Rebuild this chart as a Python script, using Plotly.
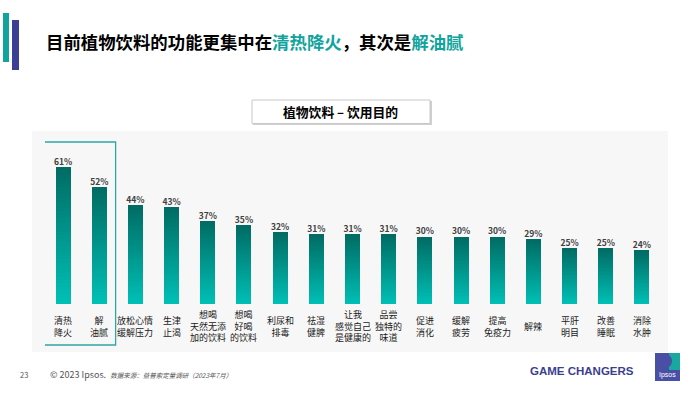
import plotly.graph_objects as go

categories = ["清热<br>降火", "解<br>油腻", "放松心情<br>缓解压力", "生津<br>止渴",
              "想喝<br>天然无添<br>加的饮料", "想喝<br>好喝<br>的饮料", "利尿和<br>排毒",
              "祛湿<br>健脾", "让我<br>感觉自己<br>是健康的", "品尝<br>独特的<br>味道",
              "促进<br>消化", "缓解<br>疲劳", "提高<br>免疫力", "解辣", "平肝<br>明目",
              "改善<br>睡眠", "消除<br>水肿"]
values = [61, 52, 44, 43, 37, 35, 32, 31, 31, 31, 30, 30, 30, 29, 25, 25, 24]
value_labels = [f"{v}%" for v in values]

FONT = "Noto Sans CJK SC"
W, H = 700, 394
ML, MR, MT, MB = 45, 40, 142, 90
PW, PH = W - ML - MR, H - MT - MB

def lerp(c1, c2, t):
    return "rgb(%d,%d,%d)" % tuple(round(a + (b - a) * t) for a, b in zip(c1, c2))

bottom_c = (0, 191, 181)
top_c = (0, 108, 100)
N = 40
xs = list(range(len(categories)))

fig = go.Figure()
for k in range(N):
    fig.add_trace(go.Bar(
        x=xs, y=[v / N for v in values], width=0.415,
        marker=dict(color=lerp(bottom_c, top_c, k / (N - 1)), line=dict(width=0)),
        hoverinfo="skip", showlegend=False))

fig.add_trace(go.Scatter(
    x=xs, y=values, mode="text", text=value_labels, textposition="top center",
    textfont=dict(family=FONT, size=8.5, color="#404040", weight="bold"),
    hoverinfo="skip", showlegend=False, cliponaxis=False))

def px(p):
    return (p - ML) / PW

def py(p):
    return (H - MB - p) / PH

ann = []
for i, c in enumerate(categories):
    ann.append(dict(x=i, y=py(326), xref="x", yref="paper", text=c, showarrow=False,
                    xanchor="center", yanchor="middle",
                    font=dict(family=FONT, size=9, color="#1a1a1a")))

ann.append(dict(x=px(44), y=py(42), xref="paper", yref="paper", xanchor="left", yanchor="middle",
                showarrow=False,
                text="<b>目前植物饮料的功能更集中在<span style='color:#12A39E'>清热降火</span>，其次是<span style='color:#12A39E'>解油腻</span></b>",
                font=dict(family=FONT, size=17.4, color="#000000")))
ann.append(dict(x=px(340), y=py(111.5), xref="paper", yref="paper", xanchor="center", yanchor="middle",
                showarrow=False, text="<b>植物饮料 – 饮用目的</b>",
                font=dict(family=FONT, size=12.8, color="#000000")))
ann.append(dict(x=px(18), y=py(374), xref="paper", yref="paper", xanchor="left", yanchor="middle",
                showarrow=False, text="23", font=dict(family=FONT, size=7.5, color="#555555")))
ann.append(dict(x=px(48), y=py(374), xref="paper", yref="paper", xanchor="left", yanchor="middle",
                showarrow=False,
                text="© 2023 Ipsos.  <i><span style='font-size:6.5px'>数据来源：益普索定量调研（2023年7月）</span></i>",
                font=dict(family=FONT, size=9, color="#555555")))
ann.append(dict(x=px(636), y=py(371), xref="paper", yref="paper", xanchor="right", yanchor="middle",
                showarrow=False, text="<b>GAME CHANGERS</b>",
                font=dict(family="Liberation Sans", size=11.5, color="#3B3F8F")))
ann.append(dict(x=px(667.5), y=py(375), xref="paper", yref="paper", xanchor="center", yanchor="middle",
                showarrow=False, text="Ipsos",
                font=dict(family="Liberation Sans", size=7, color="#FFFFFF")))

def prect(x0, y0, x1, y1, **kw):
    return dict(type="rect", xref="paper", yref="paper", x0=px(x0), x1=px(x1), y0=py(y1), y1=py(y0), **kw)

shapes = [
    prect(32, 131, 668, 352, fillcolor="#F7F7F7", line=dict(width=0), layer="below"),
    prect(253, 101, 432, 125, fillcolor="#D0D0D0", line=dict(width=0), layer="below"),
    prect(252, 100, 430, 123.5, fillcolor="#FFFFFF", line=dict(color="#C8C8C8", width=1), layer="below"),
    dict(type="rect", xref="x", yref="paper", x0=-0.566, x1=1.452, y0=py(345), y1=py(142),
         fillcolor="rgba(0,0,0,0)", line=dict(color="#2FA8A3", width=1.3)),
    prect(3, 13, 9, 62, fillcolor="#12A39E", line=dict(width=0)),
    prect(12, 20, 19, 70, fillcolor="#3B3F96", line=dict(width=0)),
    prect(655, 353, 680, 381, fillcolor="#4A4FA6", line=dict(width=0)),
    prect(669, 353, 680, 370, fillcolor="#19A89F", line=dict(width=0)),
    dict(type="circle", xref="paper", yref="paper", x0=px(663), x1=px(672), y0=py(367), y1=py(355),
         fillcolor="#4A4FA6", line=dict(width=0)),
]

fig.update_layout(
    width=W, height=H, margin=dict(l=ML, r=MR, t=MT, b=MB),
    paper_bgcolor="#FFFFFF", plot_bgcolor="rgba(0,0,0,0)",
    barmode="stack", bargap=0,
    xaxis=dict(range=[-0.5, len(categories) - 0.5], showticklabels=False, showgrid=False,
               zeroline=False, showline=False, fixedrange=True),
    yaxis=dict(range=[0, 72], showticklabels=False, showgrid=False, zeroline=False,
               showline=False, fixedrange=True),
    annotations=ann, shapes=shapes, showlegend=False,
)

fig.write_html("out.html", config={"displayModeBar": False},
               post_script="document.body.style.margin='0';document.body.style.overflow='hidden';")
